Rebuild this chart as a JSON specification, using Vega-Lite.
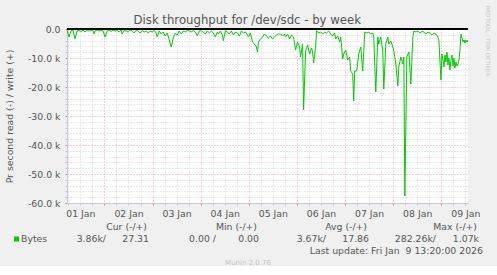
{
  "$schema": "https://vega.github.io/schema/vega-lite/v6.json",
  "background": "#f0f0f0",
  "padding": {"left": 5, "top": 5, "right": 0, "bottom": 0},
  "spacing": 4,
  "config": {"font": "DejaVu Sans", "view": {"stroke": null}},
  "datasets": {
    "disk": [
      {"t":"2026-01-01T05:20:00Z","v":-345},{"t":"2026-01-01T06:20:00Z","v":-2759},{"t":"2026-01-01T07:20:00Z","v":-690},{"t":"2026-01-01T08:20:00Z","v":-345},{"t":"2026-01-01T09:20:00Z","v":-3448},{"t":"2026-01-01T10:20:00Z","v":-690},{"t":"2026-01-01T11:20:00Z","v":-517},{"t":"2026-01-01T12:20:00Z","v":-862},{"t":"2026-01-01T13:20:00Z","v":-345},{"t":"2026-01-01T14:20:00Z","v":-1034},{"t":"2026-01-01T15:20:00Z","v":-517},{"t":"2026-01-01T16:20:00Z","v":-690},{"t":"2026-01-01T17:20:00Z","v":-345},{"t":"2026-01-01T18:20:00Z","v":-517},{"t":"2026-01-01T18:50:00Z","v":-1724},{"t":"2026-01-01T19:20:00Z","v":-690},{"t":"2026-01-01T20:20:00Z","v":-345},{"t":"2026-01-01T21:20:00Z","v":-690},{"t":"2026-01-01T22:20:00Z","v":-517},{"t":"2026-01-01T23:20:00Z","v":-690},
      {"t":"2026-01-02T00:20:00Z","v":-2759},{"t":"2026-01-02T01:20:00Z","v":-690},{"t":"2026-01-02T02:20:00Z","v":-345},{"t":"2026-01-02T03:20:00Z","v":-862},{"t":"2026-01-02T04:20:00Z","v":-345},{"t":"2026-01-02T05:20:00Z","v":-690},{"t":"2026-01-02T06:20:00Z","v":-517},{"t":"2026-01-02T07:20:00Z","v":-1034},{"t":"2026-01-02T08:20:00Z","v":-345},{"t":"2026-01-02T08:50:00Z","v":-1724},{"t":"2026-01-02T09:50:00Z","v":-517},{"t":"2026-01-02T10:50:00Z","v":-690},{"t":"2026-01-02T11:50:00Z","v":-1034},{"t":"2026-01-02T12:50:00Z","v":-345},{"t":"2026-01-02T13:50:00Z","v":-690},{"t":"2026-01-02T14:50:00Z","v":-1379},{"t":"2026-01-02T15:50:00Z","v":-517},{"t":"2026-01-02T16:50:00Z","v":-690},{"t":"2026-01-02T17:50:00Z","v":-1379},{"t":"2026-01-02T18:50:00Z","v":-517},{"t":"2026-01-02T19:50:00Z","v":-1034},{"t":"2026-01-02T20:50:00Z","v":-690},{"t":"2026-01-02T21:50:00Z","v":-1379},{"t":"2026-01-02T22:50:00Z","v":-690},{"t":"2026-01-02T23:50:00Z","v":-1034},
      {"t":"2026-01-03T00:50:00Z","v":-517},{"t":"2026-01-03T01:50:00Z","v":-1379},{"t":"2026-01-03T02:20:00Z","v":-2759},{"t":"2026-01-03T03:20:00Z","v":-690},{"t":"2026-01-03T04:20:00Z","v":-1724},{"t":"2026-01-03T05:20:00Z","v":-1034},{"t":"2026-01-03T06:20:00Z","v":-2414},{"t":"2026-01-03T07:20:00Z","v":-1379},{"t":"2026-01-03T08:20:00Z","v":-3793},{"t":"2026-01-03T09:20:00Z","v":-6207},{"t":"2026-01-03T10:20:00Z","v":-3103},{"t":"2026-01-03T11:20:00Z","v":-1379},{"t":"2026-01-03T12:20:00Z","v":-2069},{"t":"2026-01-03T13:20:00Z","v":-690},{"t":"2026-01-03T14:20:00Z","v":-1724},{"t":"2026-01-03T15:20:00Z","v":-690},{"t":"2026-01-03T16:20:00Z","v":-1034},{"t":"2026-01-03T17:20:00Z","v":-517},{"t":"2026-01-03T18:20:00Z","v":-690},{"t":"2026-01-03T19:20:00Z","v":-1034},{"t":"2026-01-03T20:20:00Z","v":-517},{"t":"2026-01-03T21:20:00Z","v":-1034},{"t":"2026-01-03T22:20:00Z","v":-2414},{"t":"2026-01-03T23:20:00Z","v":-690},
      {"t":"2026-01-04T00:20:00Z","v":-586},{"t":"2026-01-04T01:20:00Z","v":-1034},{"t":"2026-01-04T02:20:00Z","v":-1724},{"t":"2026-01-04T03:20:00Z","v":-690},{"t":"2026-01-04T04:20:00Z","v":-1379},{"t":"2026-01-04T05:20:00Z","v":-690},{"t":"2026-01-04T06:20:00Z","v":-1379},{"t":"2026-01-04T07:20:00Z","v":-2759},{"t":"2026-01-04T08:20:00Z","v":-1034},{"t":"2026-01-04T08:50:00Z","v":-1724},{"t":"2026-01-04T09:50:00Z","v":-690},{"t":"2026-01-04T10:50:00Z","v":-2069},{"t":"2026-01-04T11:20:00Z","v":-4034},{"t":"2026-01-04T12:20:00Z","v":-586},{"t":"2026-01-04T13:20:00Z","v":-1034},{"t":"2026-01-04T14:20:00Z","v":-1724},{"t":"2026-01-04T15:20:00Z","v":-690},{"t":"2026-01-04T16:20:00Z","v":-2069},{"t":"2026-01-04T17:20:00Z","v":-1034},{"t":"2026-01-04T18:20:00Z","v":-1379},{"t":"2026-01-04T19:20:00Z","v":-2414},{"t":"2026-01-04T20:20:00Z","v":-690},{"t":"2026-01-04T21:20:00Z","v":-1379},{"t":"2026-01-04T22:20:00Z","v":-1034},{"t":"2026-01-04T23:20:00Z","v":-2069},{"t":"2026-01-04T23:50:00Z","v":-2759},
      {"t":"2026-01-05T00:50:00Z","v":-1379},{"t":"2026-01-05T01:50:00Z","v":-4483},{"t":"2026-01-05T02:50:00Z","v":-5172},{"t":"2026-01-05T03:50:00Z","v":-6207},{"t":"2026-01-05T04:20:00Z","v":-7931},{"t":"2026-01-05T04:50:00Z","v":-4483},{"t":"2026-01-05T05:50:00Z","v":-3448},{"t":"2026-01-05T06:50:00Z","v":-2759},{"t":"2026-01-05T07:50:00Z","v":-1724},{"t":"2026-01-05T08:50:00Z","v":-2414},{"t":"2026-01-05T09:50:00Z","v":-3103},{"t":"2026-01-05T10:50:00Z","v":-2414},{"t":"2026-01-05T11:50:00Z","v":-3448},{"t":"2026-01-05T12:50:00Z","v":-2759},{"t":"2026-01-05T13:50:00Z","v":-2069},{"t":"2026-01-05T14:50:00Z","v":-1724},{"t":"2026-01-05T15:50:00Z","v":-1724},{"t":"2026-01-05T16:50:00Z","v":-2414},{"t":"2026-01-05T17:50:00Z","v":-1724},{"t":"2026-01-05T18:20:00Z","v":-2759},{"t":"2026-01-05T19:20:00Z","v":-1724},{"t":"2026-01-05T20:20:00Z","v":-3448},{"t":"2026-01-05T21:20:00Z","v":-2069},{"t":"2026-01-05T22:20:00Z","v":-2759},{"t":"2026-01-05T23:20:00Z","v":-7241},
      {"t":"2026-01-06T00:20:00Z","v":-4483},{"t":"2026-01-06T01:20:00Z","v":-6207},{"t":"2026-01-06T01:50:00Z","v":-9655},{"t":"2026-01-06T02:50:00Z","v":-5172},{"t":"2026-01-06T03:20:00Z","v":-27931},{"t":"2026-01-06T04:20:00Z","v":-7586},{"t":"2026-01-06T05:20:00Z","v":-5517},{"t":"2026-01-06T06:20:00Z","v":-8621},{"t":"2026-01-06T07:20:00Z","v":-6552},{"t":"2026-01-06T07:50:00Z","v":-7931},{"t":"2026-01-06T08:20:00Z","v":-11724},{"t":"2026-01-06T09:20:00Z","v":-6207},{"t":"2026-01-06T09:50:00Z","v":-586},{"t":"2026-01-06T10:50:00Z","v":-1379},{"t":"2026-01-06T11:50:00Z","v":-1034},{"t":"2026-01-06T12:50:00Z","v":-1724},{"t":"2026-01-06T13:50:00Z","v":-1034},{"t":"2026-01-06T14:50:00Z","v":-1379},{"t":"2026-01-06T15:50:00Z","v":-690},{"t":"2026-01-06T16:50:00Z","v":-1724},{"t":"2026-01-06T17:50:00Z","v":-2414},{"t":"2026-01-06T18:50:00Z","v":-1379},{"t":"2026-01-06T19:20:00Z","v":-3448},{"t":"2026-01-06T20:20:00Z","v":-2414},{"t":"2026-01-06T21:20:00Z","v":-4483},{"t":"2026-01-06T21:50:00Z","v":-2759},{"t":"2026-01-06T22:50:00Z","v":-10345},{"t":"2026-01-06T23:20:00Z","v":-8621},
      {"t":"2026-01-07T00:20:00Z","v":-7241},{"t":"2026-01-07T01:20:00Z","v":-10690},{"t":"2026-01-07T02:20:00Z","v":-9655},{"t":"2026-01-07T02:50:00Z","v":-14483},{"t":"2026-01-07T03:50:00Z","v":-15517},{"t":"2026-01-07T04:20:00Z","v":-24828},{"t":"2026-01-07T04:50:00Z","v":-14483},{"t":"2026-01-07T05:50:00Z","v":-14483},{"t":"2026-01-07T06:50:00Z","v":-8621},{"t":"2026-01-07T07:50:00Z","v":-6207},{"t":"2026-01-07T08:50:00Z","v":-14483},{"t":"2026-01-07T09:50:00Z","v":-1034},{"t":"2026-01-07T10:50:00Z","v":-1379},{"t":"2026-01-07T11:50:00Z","v":-1034},{"t":"2026-01-07T12:50:00Z","v":-1724},{"t":"2026-01-07T13:50:00Z","v":-1379},{"t":"2026-01-07T14:20:00Z","v":-2759},{"t":"2026-01-07T15:20:00Z","v":-21724},{"t":"2026-01-07T16:20:00Z","v":-2759},{"t":"2026-01-07T16:50:00Z","v":-5172},{"t":"2026-01-07T17:50:00Z","v":-2759},{"t":"2026-01-07T18:50:00Z","v":-7586},{"t":"2026-01-07T19:20:00Z","v":-20690},{"t":"2026-01-07T20:20:00Z","v":-5172},{"t":"2026-01-07T21:20:00Z","v":-2759},{"t":"2026-01-07T21:50:00Z","v":-5172},{"t":"2026-01-07T22:50:00Z","v":-4138},{"t":"2026-01-07T23:50:00Z","v":-6207},
      {"t":"2026-01-08T00:20:00Z","v":-7586},{"t":"2026-01-08T01:20:00Z","v":-12069},{"t":"2026-01-08T02:20:00Z","v":-19655},{"t":"2026-01-08T02:50:00Z","v":-13103},{"t":"2026-01-08T03:50:00Z","v":-9655},{"t":"2026-01-08T04:50:00Z","v":-12069},{"t":"2026-01-08T05:20:00Z","v":-9655},{"t":"2026-01-08T05:50:00Z","v":-57586},{"t":"2026-01-08T06:50:00Z","v":-9655},{"t":"2026-01-08T07:50:00Z","v":-7931},{"t":"2026-01-08T08:50:00Z","v":-18966},{"t":"2026-01-08T09:50:00Z","v":-2759},{"t":"2026-01-08T10:20:00Z","v":-690},{"t":"2026-01-08T11:20:00Z","v":-1034},{"t":"2026-01-08T12:20:00Z","v":-690},{"t":"2026-01-08T13:20:00Z","v":-1379},{"t":"2026-01-08T14:20:00Z","v":-862},{"t":"2026-01-08T15:20:00Z","v":-1034},{"t":"2026-01-08T16:20:00Z","v":-1724},{"t":"2026-01-08T17:20:00Z","v":-1034},{"t":"2026-01-08T18:20:00Z","v":-1379},{"t":"2026-01-08T19:20:00Z","v":-2069},{"t":"2026-01-08T20:20:00Z","v":-1379},{"t":"2026-01-08T21:20:00Z","v":-1724},{"t":"2026-01-08T22:20:00Z","v":-2759},{"t":"2026-01-08T22:50:00Z","v":-4138},{"t":"2026-01-08T23:50:00Z","v":-17586},
      {"t":"2026-01-09T00:20:00Z","v":-8621},{"t":"2026-01-09T00:50:00Z","v":-10690},{"t":"2026-01-09T01:20:00Z","v":-13103},{"t":"2026-01-09T01:50:00Z","v":-8966},{"t":"2026-01-09T02:20:00Z","v":-11379},{"t":"2026-01-09T02:50:00Z","v":-7931},{"t":"2026-01-09T03:20:00Z","v":-12414},{"t":"2026-01-09T03:50:00Z","v":-10000},{"t":"2026-01-09T04:20:00Z","v":-14138},{"t":"2026-01-09T04:50:00Z","v":-10690},{"t":"2026-01-09T05:20:00Z","v":-8966},{"t":"2026-01-09T05:50:00Z","v":-12759},{"t":"2026-01-09T06:20:00Z","v":-10000},{"t":"2026-01-09T06:50:00Z","v":-13448},{"t":"2026-01-09T07:20:00Z","v":-11379},{"t":"2026-01-09T07:50:00Z","v":-12759},{"t":"2026-01-09T08:20:00Z","v":-12069},{"t":"2026-01-09T08:50:00Z","v":-10690},{"t":"2026-01-09T09:20:00Z","v":-7241},{"t":"2026-01-09T09:50:00Z","v":-1724},{"t":"2026-01-09T10:20:00Z","v":-3103},{"t":"2026-01-09T10:50:00Z","v":-4483},{"t":"2026-01-09T11:20:00Z","v":-3793},{"t":"2026-01-09T11:50:00Z","v":-4828},{"t":"2026-01-09T12:20:00Z","v":-3793},{"t":"2026-01-09T12:50:00Z","v":-4483},{"t":"2026-01-09T13:20:00Z","v":-3793}
    ],
    "footer": [
      {"row":"head","col":"cur","part":"head","text":"Cur (-/+)"},
      {"row":"head","col":"min","part":"head","text":"Min (-/+)"},
      {"row":"head","col":"avg","part":"head","text":"Avg (-/+)"},
      {"row":"head","col":"max","part":"head","text":"Max (-/+)"},
      {"row":"vals","col":"name","part":"name","text":"Bytes"},
      {"row":"vals","col":"cur","part":"read","text":"3.86k/"},
      {"row":"vals","col":"cur","part":"write","text":"27.31"},
      {"row":"vals","col":"min","part":"read","text":"0.00 /"},
      {"row":"vals","col":"min","part":"write","text":"0.00"},
      {"row":"vals","col":"avg","part":"read","text":"3.67k/"},
      {"row":"vals","col":"avg","part":"write","text":"17.86"},
      {"row":"vals","col":"max","part":"read","text":"282.26k/"},
      {"row":"vals","col":"max","part":"write","text":"1.07k"},
      {"row":"update","col":"max","part":"update","text":"Last update: Fri Jan \u00a09 13:20:00 2026"},
      {"row":"munin","col":"min","part":"munin","text":"Munin 2.0.76"}
    ]
  },
  "vconcat": [
    {
      "width": 401,
      "height": 174,
      "view": {"fill": "#ffffff", "stroke": null},
      "title": {"text": "Disk throughput for /dev/sdc - by week", "frame": "bounds", "anchor": "middle", "offset": -22, "font": "DejaVu Sans", "fontSize": 11.7, "fontWeight": "normal", "color": "#555555"},
      "data": {"name": "disk"},
      "resolve": {"axis": {"y": "independent"}},
      "layer": [
        {
          "mark": {"type": "line", "color": "#00cc00", "strokeWidth": 1},
          "encoding": {
            "x": {
              "field": "t", "type": "temporal",
              "scale": {"type": "utc", "domain": [1767244800000, 1767964800000]},
              "axis": {
                "orient": "bottom", "title": null,
                "values": [1767247200000,1767268800000,1767290400000,1767312000000,1767333600000,1767355200000,1767376800000,1767398400000,1767420000000,1767441600000,1767463200000,1767484800000,1767506400000,1767528000000,1767549600000,1767571200000,1767592800000,1767614400000,1767636000000,1767657600000,1767679200000,1767700800000,1767722400000,1767744000000,1767765600000,1767787200000,1767808800000,1767830400000,1767852000000,1767873600000,1767895200000,1767916800000,1767938400000,1767960000000],
                "grid": true,
                "gridColor": {"condition": {"test": "utchours(datum.value) == 0", "value": "#e6a6a6"}, "value": "#d2d2d2"},
                "gridDash": [1, 2],
                "tickColor": {"condition": {"test": "utchours(datum.value) == 0", "value": "#e08080"}, "value": "#c8c8c8"},
                "tickSize": 2,
                "domainColor": "#c6c6ee",
                "labelExpr": "utchours(datum.value) == 12 ? utcFormat(datum.value, '%d %b') : ''",
                "labelOverlap": false, "labelFlush": false, "labelBound": false,
                "labelFont": "DejaVu Sans", "labelFontSize": 9.33, "labelColor": "#555555", "labelPadding": 4
              }
            },
            "y": {
              "field": "v", "type": "quantitative",
              "scale": {"domain": [-60000, 0], "nice": false, "zero": false},
              "axis": {
                "orient": "left",
                "values": [0, -2000, -4000, -6000, -8000, -10000, -12000, -14000, -16000, -18000, -20000, -22000, -24000, -26000, -28000, -30000, -32000, -34000, -36000, -38000, -40000, -42000, -44000, -46000, -48000, -50000, -52000, -54000, -56000, -58000, -60000],
                "grid": true,
                "gridColor": {"condition": {"test": "datum.value % 10000 == 0", "value": "#e6a6a6"}, "value": "#d2d2d2"},
                "gridDash": [1, 2],
                "tickColor": {"condition": {"test": "datum.value % 10000 == 0", "value": "#e08080"}, "value": "#c8c8c8"},
                "tickSize": 2,
                "domainColor": "#c6c6ee",
                "labelExpr": "datum.value == 0 ? '0.0' : (datum.value % 10000 == 0 ? '-' + format(-datum.value / 1000, '.1f') + ' k' : '')",
                "labelOverlap": false,
                "labelFont": "DejaVu Sans", "labelFontSize": 9.33, "labelColor": "#555555", "labelPadding": 5,
                "title": "Pr second read (-) / write (+)",
                "titleFont": "DejaVu Sans", "titleFontSize": 9.33, "titleFontWeight": "normal", "titleColor": "#555555", "titlePadding": 13
              }
            }
          }
        },
        {
          "mark": {"type": "rule", "color": "#000000", "strokeWidth": 1.5},
          "encoding": {
            "y": {
              "datum": 0, "type": "quantitative",
              "axis": {
                "orient": "right", "labels": false, "ticks": false, "domain": false, "grid": false,
                "title": "RRDTOOL / TOBI OETIKER",
                "titleFont": "DejaVu Sans", "titleFontSize": 5.5, "titleFontWeight": "normal", "titleColor": "#c8c8c8",
                "titleAngle": 90, "titleAlign": "left", "titleBaseline": "middle", "titleX": 19, "titleY": -24
              }
            }
          }
        }
      ]
    },
    {
      "width": 440,
      "height": 36,
      "view": {"stroke": null},
      "data": {"name": "footer"},
      "encoding": {
        "x": {"field": "col", "type": "ordinal", "scale": {"type": "point", "domain": ["name", "cur", "min", "avg", "max"], "padding": 0}, "axis": null},
        "y": {"field": "row", "type": "ordinal", "scale": {"type": "point", "domain": ["head", "vals", "update", "munin"], "padding": 0}, "axis": null}
      },
      "layer": [
        {"transform": [{"filter": "datum.part == 'name'"}], "mark": {"type": "square", "color": "#00cc00", "size": 25, "opacity": 1, "xOffset": -50.5}},
        {"transform": [{"filter": "datum.part == 'name'"}], "mark": {"type": "text", "align": "left", "dx": -46, "font": "DejaVu Sans", "fontSize": 9.33, "color": "#555555"}, "encoding": {"text": {"field": "text"}}},
        {"transform": [{"filter": "datum.part == 'head'"}], "mark": {"type": "text", "align": "right", "dx": -30, "font": "DejaVu Sans", "fontSize": 9.33, "color": "#555555"}, "encoding": {"text": {"field": "text"}}},
        {"transform": [{"filter": "datum.part == 'read'"}], "mark": {"type": "text", "align": "right", "dx": -71, "font": "DejaVu Sans", "fontSize": 9.33, "color": "#555555"}, "encoding": {"text": {"field": "text"}}},
        {"transform": [{"filter": "datum.part == 'write'"}], "mark": {"type": "text", "align": "right", "dx": -28, "font": "DejaVu Sans", "fontSize": 9.33, "color": "#555555"}, "encoding": {"text": {"field": "text"}}},
        {"transform": [{"filter": "datum.part == 'update'"}], "mark": {"type": "text", "align": "right", "dx": -24, "font": "DejaVu Sans", "fontSize": 9.33, "color": "#555555"}, "encoding": {"text": {"field": "text"}}},
        {"transform": [{"filter": "datum.part == 'munin'"}], "mark": {"type": "text", "align": "center", "dx": -39, "font": "DejaVu Sans", "fontSize": 7, "color": "#c4c4c4"}, "encoding": {"text": {"field": "text"}}}
      ]
    }
  ]
}
